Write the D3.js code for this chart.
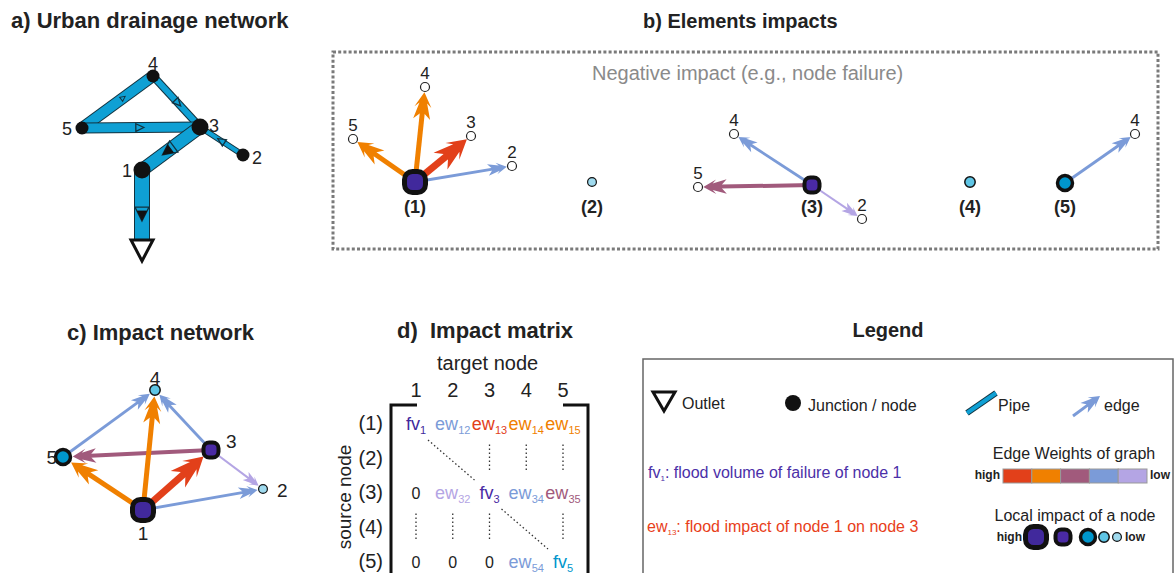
<!DOCTYPE html>
<html><head><meta charset="utf-8">
<script src="https://cdn.jsdelivr.net/npm/d3@7"></script>
<style>
body{margin:0;background:#fff}
svg{display:block}
text{font-family:"Liberation Sans",Arial,Helvetica,sans-serif}
</style>
</head><body>
<svg id="fig" width="1176" height="573"></svg>
<script>
// ---------------- DATA ----------------
const nodeIds = [1, 2, 3, 4, 5];
// a) plan coordinates of junctions (m) and of the outlet
const planX = [60, 161, 118, 71, 0];
const planY = [94, 79, 51, 0, 52];
const outletPlan = [60, 164];
// pipes (0 = outlet), diameters and flow-marker positions
const pipeFrom = [5, 4, 5, 2, 3, 1];
const pipeTo = [4, 3, 3, 3, 1, 0];
const pipeDiam = [10, 6, 9, 4, 12, 14];
const flowMarkAt = [0.58, 0.53, 0.49, 0.51, 0.55, 0.63];
const flowMarkType = ["tiny", "open", "open", "open", "filled", "filled"];
// impact network edges (weight rank 1 = high ... 5 = low)
const edgeSource = [1, 1, 1, 1, 3, 3, 3, 5];
const edgeTarget = [2, 3, 4, 5, 2, 4, 5, 4];
const edgeRank = [4, 1, 2, 2, 5, 4, 3, 4];
// local impact rank of each node (1 = high ... 5 = low)
const nodeImpactRank = [1, 5, 2, 4, 3];
// c) impact network layout
const layoutX = [80, 200, 148, 92, 0];
const layoutY = [120, 99, 60, 0, 67];
// b) star layout: target offsets for each edge
const starDX = [97, 56, 10, -62, 50, -78, -114, 70];
const starDY = [-16, -46, -95, -43, 34, -51, 2, -49];
// d) matrix elision marks
const elidedRows = [2, 4];
const elidedCols = {2: [3, 4, 5], 4: [1, 2, 3, 5]};
// legend
const weightColors = ["#e2401a", "#f08000", "#a15a7c", "#7b9bd8", "#b4a5e4"];
const impactFills = ["#41299c", "#4a2aa4", "#0096cc", "#5fc5e5", "#9fdaee"];
const impactRanks = [1, 2, 3, 4, 5];

// ---------------- HELPERS ----------------
const svg = d3.select("#fig");
function label(g, x, y, s, size, o = {}) {
  return g.append("text").attr("x", x).attr("y", y).attr("font-size", size)
    .attr("font-weight", o.bold ? "bold" : null).attr("fill", o.fill || "#222")
    .attr("text-anchor", o.anchor || "start").style("white-space", "pre").text(s);
}
const colorScale = d3.scaleOrdinal().domain(impactRanks).range(weightColors);
const widthScale = d3.scaleOrdinal().domain(impactRanks).range([7, 5, 4, 2.8, 2]);
const fillScale = d3.scaleOrdinal().domain(impactRanks).range(impactFills);
const nodeStyles = [
  {shape: "sq", s: 21, sw: 5},
  {shape: "sq", s: 15, sw: 4},
  {shape: "c", r: 7.5, sw: 3.5},
  {shape: "c", r: 5.2, sw: 1.5},
  {shape: "c", r: 4.4, sw: 1.2}
];
function outerR(rank) {
  const st = nodeStyles[rank - 1];
  return st.shape === "sq" ? st.s / 2 + st.sw / 2 : st.r + st.sw / 2;
}
function drawNode(g, x, y, rank) {
  const st = nodeStyles[rank - 1];
  if (st.shape === "sq") {
    g.append("rect").attr("x", x - st.s / 2).attr("y", y - st.s / 2)
      .attr("width", st.s).attr("height", st.s).attr("rx", st.s * 0.38)
      .attr("fill", fillScale(rank)).attr("stroke", "#111").attr("stroke-width", st.sw);
  } else {
    g.append("circle").attr("cx", x).attr("cy", y).attr("r", st.r)
      .attr("fill", fillScale(rank)).attr("stroke", "#111").attr("stroke-width", st.sw);
  }
}
function arrow(g, x1, y1, x2, y2, w, color, startOff, endOff) {
  const dx = x2 - x1, dy = y2 - y1, len = Math.hypot(dx, dy), ux = dx / len, uy = dy / len;
  const tx = x2 - ux * endOff, ty = y2 - uy * endOff;
  const L = 3.6 * w + 9, H = 1.2 * w + 2.5;
  g.append("line").attr("x1", x1 + ux * startOff).attr("y1", y1 + uy * startOff)
    .attr("x2", tx - ux * L * 0.75).attr("y2", ty - uy * L * 0.75)
    .attr("stroke", color).attr("stroke-width", w);
  const pts = [[0, 0], [-0.55 * L, H], [-0.4 * L, 0.45 * H], [-L, H], [-0.8 * L, w / 2],
    [-0.8 * L, -w / 2], [-L, -H], [-0.4 * L, -0.45 * H], [-0.55 * L, -H]];
  const ang = Math.atan2(dy, dx) * 180 / Math.PI;
  g.append("path").attr("d", d3.line()(pts) + "Z").attr("fill", color)
    .attr("transform", `translate(${tx},${ty}) rotate(${ang})`);
}
function tri(g, cx, cy, ang, len, half, fill, stroke, sw) {
  const pts = [[len / 2, 0], [-len / 2, half], [-len / 2, -half]];
  g.append("path").attr("d", d3.line()(pts) + "Z").attr("fill", fill)
    .attr("stroke", stroke).attr("stroke-width", sw).attr("stroke-linejoin", "miter")
    .attr("transform", `translate(${cx},${cy}) rotate(${ang})`);
}
const PIPE = "#0fa0d4", PIPE_EDGE = "#12323f";

// ---------------- a) URBAN DRAINAGE NETWORK ----------------
const ga = svg.append("g");
label(ga, 11, 28, "a) Urban drainage network", 22, {bold: true});
const xa = d3.scaleLinear().domain([0, 161]).range([82, 243]);
const ya = d3.scaleLinear().domain([0, 164]).range([76, 240]);
const posA = id => id === 0 ? [xa(outletPlan[0]), ya(outletPlan[1])] : [xa(planX[id - 1]), ya(planY[id - 1])];
pipeFrom.forEach((f, i) => {
  const [x1, y1] = posA(f), [x2, y2] = posA(pipeTo[i]);
  ga.append("line").attr("x1", x1).attr("y1", y1).attr("x2", x2).attr("y2", y2)
    .attr("stroke", PIPE_EDGE).attr("stroke-width", pipeDiam[i] + 2);
  ga.append("line").attr("x1", x1).attr("y1", y1).attr("x2", x2).attr("y2", y2)
    .attr("stroke", PIPE).attr("stroke-width", pipeDiam[i]);
});
pipeFrom.forEach((f, i) => {
  const [x1, y1] = posA(f), [x2, y2] = posA(pipeTo[i]);
  const t = flowMarkAt[i], cx = x1 + (x2 - x1) * t, cy = y1 + (y2 - y1) * t;
  const ang = Math.atan2(y2 - y1, x2 - x1) * 180 / Math.PI;
  const type = flowMarkType[i];
  if (type === "tiny") tri(ga, cx, cy, ang, 5, 2.5, "none", PIPE_EDGE, 1);
  else if (type === "open") tri(ga, cx, cy, ang, 8, 3.8, "none", PIPE_EDGE, 1.3);
  else {
    tri(ga, cx, cy, ang, 14, 7, "none", PIPE_EDGE, 1.3);
    tri(ga, cx + 1.5 * Math.cos(ang * Math.PI / 180), cy + 1.5 * Math.sin(ang * Math.PI / 180), ang, 9, 4.5, "#111", "#111", 1);
  }
});
// outlet
{
  const [ox, oy] = posA(0);
  ga.append("path").attr("d", d3.line()([[ox - 11, oy], [ox + 11, oy], [ox, oy + 21]]) + "Z")
    .attr("fill", "#fff").attr("stroke", "#111").attr("stroke-width", 3);
}
const junctionR = [8.5, 6.5, 8.5, 6.5, 6.5];
nodeIds.forEach((id, i) => {
  const [x, y] = posA(id);
  ga.append("circle").attr("cx", x).attr("cy", y).attr("r", junctionR[i]).attr("fill", "#111");
});
const aLab = {1: [-10, 7, "end"], 2: [9, 9, "start"], 3: [9, 5, "start"], 4: [0, -6, "middle"], 5: [-10, 7, "end"]};
nodeIds.forEach(id => {
  const [x, y] = posA(id), o = aLab[id];
  label(ga, x + o[0], y + o[1], String(id), 18, {anchor: o[2]});
});

// ---------------- b) ELEMENTS IMPACTS ----------------
const gb = svg.append("g");
label(gb, 643, 28, "b) Elements impacts", 20, {bold: true});
gb.append("rect").attr("x", 333).attr("y", 52).attr("width", 825).attr("height", 197)
  .attr("fill", "none").attr("stroke", "#7a7a7a").attr("stroke-width", 3).attr("stroke-dasharray", "3 2.2");
label(gb, 592, 80, "Negative impact (e.g., node failure)", 20, {fill: "#8a8a8a"});
const bSlot = d3.scaleOrdinal().domain(nodeIds).range([[415, 182], [592, 182], [812, 185], [970, 182], [1065, 183]]);
edgeSource.forEach((s, i) => {
  const [sx, sy] = bSlot(s), tx = sx + starDX[i], ty = sy + starDY[i];
  arrow(gb, sx, sy, tx, ty, widthScale(edgeRank[i]), colorScale(edgeRank[i]), 0, 5.3);
});
edgeSource.forEach((s, i) => {
  const [sx, sy] = bSlot(s), tx = sx + starDX[i], ty = sy + starDY[i];
  gb.append("circle").attr("cx", tx).attr("cy", ty).attr("r", 4.5)
    .attr("fill", "#fff").attr("stroke", "#222").attr("stroke-width", 1.2);
  label(gb, tx, ty - 8, String(edgeTarget[i]), 17, {anchor: "middle"});
});
nodeIds.forEach(id => {
  const [x, y] = bSlot(id);
  drawNode(gb, x, y, nodeImpactRank[id - 1]);
  label(gb, x, 213, `(${id})`, 18, {bold: true, anchor: "middle"});
});

// ---------------- c) IMPACT NETWORK ----------------
const gc = svg.append("g");
label(gc, 67, 340, "c) Impact network", 22, {bold: true});
const xc = d3.scaleLinear().domain([0, 200]).range([63, 263]);
const yc = d3.scaleLinear().domain([0, 120]).range([390, 510]);
const posC = id => [xc(layoutX[id - 1]), yc(layoutY[id - 1])];
const order = d3.range(edgeSource.length).sort((a, b) => edgeRank[b] - edgeRank[a]);
order.forEach(i => {
  const [x1, y1] = posC(edgeSource[i]), [x2, y2] = posC(edgeTarget[i]);
  arrow(gc, x1, y1, x2, y2, widthScale(edgeRank[i]), colorScale(edgeRank[i]), 0,
    outerR(nodeImpactRank[edgeTarget[i] - 1]) + 0.5);
});
nodeIds.forEach(id => {
  const [x, y] = posC(id);
  drawNode(gc, x, y, nodeImpactRank[id - 1]);
});
const cLab = {1: [0, 30, "middle"], 2: [14, 8, "start"], 3: [15, -2, "start"], 4: [0, -5, "middle"], 5: [-6, 7, "end"]};
nodeIds.forEach(id => {
  const [x, y] = posC(id), o = cLab[id];
  label(gc, x + o[0], y + o[1], String(id), 19, {anchor: o[2]});
});

// ---------------- d) IMPACT MATRIX ----------------
const gd = svg.append("g");
label(gd, 397, 338, "d)  Impact matrix", 22, {bold: true});
label(gd, 437, 370, "target node", 20);
const colX = d3.scalePoint().domain(nodeIds).range([416, 563]);
const rowY = d3.scalePoint().domain(nodeIds).range([430, 568]);
nodeIds.forEach(id => {
  label(gd, colX(id), 397, String(id), 20, {anchor: "middle"});
  label(gd, 383, rowY(id), `(${id})`, 20, {anchor: "end"});
});
gd.append("text").attr("transform", "translate(351,497) rotate(-90)")
  .attr("text-anchor", "middle").attr("font-size", 19).attr("fill", "#222").text("source node");
// brackets
gd.append("path").attr("d", "M417,405 H391 V590").attr("fill", "none").attr("stroke", "#111").attr("stroke-width", 3);
gd.append("path").attr("d", "M563,405 H588 V590").attr("fill", "none").attr("stroke", "#111").attr("stroke-width", 3);
// cells
nodeIds.filter(r => !elidedRows.includes(r)).forEach(r => {
  nodeIds.forEach(c => {
    let main, sub, color;
    const ei = edgeSource.findIndex((s, k) => s === r && edgeTarget[k] === c);
    if (r === c) { main = "fv"; sub = String(r); color = fillScale(nodeImpactRank[r - 1]); }
    else if (ei >= 0) { main = "ew"; sub = `${r}${c}`; color = colorScale(edgeRank[ei]); }
    else { main = "0"; sub = ""; color = "#222"; }
    const t = gd.append("text").attr("x", colX(c)).attr("y", rowY(r)).attr("text-anchor", "middle")
      .attr("font-size", main === "0" ? 16 : 18).attr("fill", color);
    t.append("tspan").text(main);
    if (sub) t.append("tspan").attr("font-size", 11).attr("dy", 4).text(sub);
  });
});
elidedRows.forEach(r => {
  elidedCols[r].forEach(c => {
    gd.append("line").attr("x1", colX(c)).attr("x2", colX(c))
      .attr("y1", rowY(r) - 20).attr("y2", rowY(r) + 8)
      .attr("stroke", "#333").attr("stroke-width", 1.3).attr("stroke-dasharray", "1.5 2.5");
  });
});
[[1, 3], [3, 5]].forEach(([a, b]) => {
  gd.append("line").attr("x1", colX(a) + 12).attr("y1", rowY(a) + 10)
    .attr("x2", colX(b) - 15).attr("y2", rowY(b) - 19)
    .attr("stroke", "#333").attr("stroke-width", 1.3).attr("stroke-dasharray", "1.5 2.5");
});

// ---------------- LEGEND ----------------
const gl = svg.append("g");
label(gl, 888, 337, "Legend", 20, {bold: true, anchor: "middle"});
gl.append("rect").attr("x", 643).attr("y", 359).attr("width", 530).attr("height", 260)
  .attr("fill", "none").attr("stroke", "#666").attr("stroke-width", 1.5);
gl.append("path").attr("d", "M653,392 H675 L664,411 Z").attr("fill", "#fff").attr("stroke", "#111").attr("stroke-width", 3);
label(gl, 682, 409, "Outlet", 16);
gl.append("circle").attr("cx", 793).attr("cy", 403).attr("r", 8).attr("fill", "#111");
label(gl, 808, 411, "Junction / node", 16);
gl.append("line").attr("x1", 967).attr("y1", 413).attr("x2", 996).attr("y2", 393).attr("stroke", PIPE_EDGE).attr("stroke-width", 6);
gl.append("line").attr("x1", 967).attr("y1", 413).attr("x2", 996).attr("y2", 393).attr("stroke", PIPE).attr("stroke-width", 4);
label(gl, 998, 411, "Pipe", 16);
arrow(gl, 1073, 416, 1100, 396, 3, colorScale(4), 0, 0);
label(gl, 1104, 411, "edge", 16);
{
  const t = gl.append("text").attr("x", 648).attr("y", 478).attr("font-size", 16).attr("fill", "#4b30a8");
  t.append("tspan").text("fv");
  t.append("tspan").attr("font-size", 8).attr("dy", 3).text("1");
  t.append("tspan").attr("dy", -3).text(": flood volume of failure of node 1");
  const u = gl.append("text").attr("x", 647).attr("y", 532).attr("font-size", 16).attr("fill", "#e8401a");
  u.append("tspan").text("ew");
  u.append("tspan").attr("font-size", 8).attr("dy", 3).text("13");
  u.append("tspan").attr("dy", -3).text(": flood impact of node 1 on node 3");
}
label(gl, 1074, 459, "Edge Weights of graph", 16, {anchor: "middle"});
const barX = d3.scaleBand().domain(impactRanks).range([1003, 1147]);
impactRanks.forEach(r => {
  gl.append("rect").attr("x", barX(r)).attr("y", 469).attr("width", barX.bandwidth()).attr("height", 14)
    .attr("fill", colorScale(r)).attr("stroke", "#999").attr("stroke-width", 1);
});
label(gl, 1000, 479, "high", 12, {bold: true, anchor: "end"});
label(gl, 1150, 479, "low", 12, {bold: true});
label(gl, 1075, 521, "Local impact of a node", 16, {anchor: "middle"});
const impX = d3.scaleOrdinal().domain(impactRanks).range([1036, 1063, 1088, 1104, 1117]);
impactRanks.forEach(r => drawNode(gl, impX(r), 537, r));
label(gl, 1022, 541, "high", 12, {bold: true, anchor: "end"});
label(gl, 1125, 541, "low", 12, {bold: true});
</script>
</body></html>
